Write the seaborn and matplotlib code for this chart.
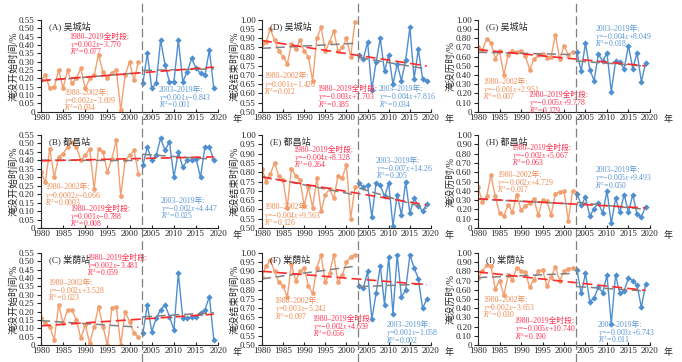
import numpy as np
import pandas as pd
import seaborn as sns
import matplotlib.pyplot as plt
import matplotlib.transforms as mtransforms
from matplotlib.ticker import FuncFormatter

# years of the two periods
years_early = list(range(1980, 2003))
years_late = list(range(2003, 2020))

# (A) start time, Wucheng
A_early = [0.19, 0.22, 0.14, 0.15, 0.25, 0.14, 0.25, 0.17, 0.20, 0.26, 0.14, 0.20,
           0.22, 0.34, 0.24, 0.20, 0.23, 0.25, 0.01, 0.22, 0.30, 0.19, 0.30]
A_late = [0.17, 0.35, 0.14, 0.17, 0.43, 0.28, 0.18, 0.18, 0.43, 0.18, 0.24, 0.32,
          0.26, 0.23, 0.22, 0.37, 0.14]
# (B) start time, Duchang
B_early = [0.33, 0.27, 0.47, 0.30, 0.42, 0.44, 0.48, 0.51, 0.48, 0.40, 0.43, 0.47,
           0.23, 0.47, 0.45, 0.33, 0.41, 0.52, 0.19, 0.40, 0.43, 0.46, 0.32]
B_late = [0.37, 0.48, 0.40, 0.43, 0.53, 0.46, 0.51, 0.30, 0.45, 0.36, 0.40, 0.40,
          0.41, 0.30, 0.48, 0.48, 0.40]
# (C) start time, Tangyin
C_early = [0.16, 0.13, 0.11, 0.03, 0.24, 0.13, 0.21, 0.21, 0.15, 0.04, 0.12, 0.01,
           0.11, 0.23, 0.11, 0.00, 0.22, 0.23, 0.00, 0.20, 0.14, 0.07, 0.05]
C_late = [0.07, 0.24, 0.08, 0.16, 0.21, 0.24, 0.17, 0.09, 0.43, 0.16, 0.16, 0.17,
          0.17, 0.19, 0.21, 0.29, 0.03]
# (D) end time, Wucheng
D_early = [0.87, 0.88, 0.95, 0.89, 0.83, 0.80, 0.76, 0.87, 0.84, 0.89, 0.83, 0.80,
           0.67, 0.90, 0.96, 0.83, 0.88, 0.94, 0.83, 0.85, 0.90, 0.80, 0.99]
D_late = [0.81, 0.79, 0.88, 0.62, 0.77, 0.90, 0.72, 0.81, 0.65, 0.76, 0.67, 0.78,
          0.96, 0.68, 0.84, 0.68, 0.67]
# (E) end time, Duchang
E_early = [0.82, 0.75, 0.79, 0.85, 0.78, 0.76, 0.61, 0.82, 0.78, 0.76, 0.62, 0.72,
           0.61, 0.77, 0.59, 0.68, 0.71, 0.66, 0.78, 0.77, 0.84, 0.55, 0.72]
E_late = [0.74, 0.72, 0.73, 0.56, 0.74, 0.73, 0.67, 0.74, 0.51, 0.68, 0.57, 0.75,
          0.58, 0.66, 0.62, 0.59, 0.63]
# (F) end time, Tangyin
F_early = [0.87, 0.93, 0.96, 0.90, 0.84, 0.82, 0.76, 0.94, 0.85, 0.90, 0.92, 0.82,
           0.78, 0.92, 0.99, 0.84, 0.89, 0.99, 0.84, 0.88, 0.95, 0.98, 0.99]
F_late = [0.82, 0.81, 0.90, 0.64, 0.78, 0.93, 0.72, 0.98, 0.67, 0.99, 0.76, 0.80,
          0.99, 0.92, 0.86, 0.70, 0.75]
# (G) duration, Wucheng
G_early = [0.70, 0.67, 0.79, 0.75, 0.58, 0.66, 0.40, 0.62, 0.66, 0.65, 0.66, 0.61,
           0.46, 0.57, 0.62, 0.63, 0.59, 0.60, 0.84, 0.57, 0.72, 0.62, 0.65]
G_late = [0.65, 0.44, 0.75, 0.46, 0.34, 0.63, 0.55, 0.64, 0.22, 0.55, 0.54, 0.47,
          0.72, 0.47, 0.64, 0.33, 0.53]
# (H) duration, Duchang
H_early = [0.44, 0.28, 0.34, 0.57, 0.34, 0.16, 0.13, 0.25, 0.17, 0.36, 0.19, 0.24,
           0.27, 0.31, 0.14, 0.30, 0.29, 0.14, 0.37, 0.39, 0.40, 0.08, 0.40]
H_late = [0.37, 0.25, 0.33, 0.13, 0.21, 0.27, 0.16, 0.40, 0.05, 0.32, 0.17, 0.36,
          0.17, 0.36, 0.15, 0.12, 0.23]
# (I) duration, Tangyin
I_early = [0.73, 0.80, 0.87, 0.86, 0.61, 0.70, 0.54, 0.76, 0.71, 0.84, 0.81, 0.79,
           0.63, 0.71, 0.80, 0.82, 0.64, 0.74, 0.85, 0.70, 0.80, 0.83, 0.84]
I_late = [0.82, 0.56, 0.78, 0.47, 0.51, 0.63, 0.57, 0.76, 0.23, 0.76, 0.56, 0.59,
          0.73, 0.70, 0.65, 0.41, 0.66]

panel_titles = ["(A) 吴城站", "(B) 都昌站", "(C) 棠荫站",
                "(D) 吴城站", "(E) 都昌站", "(F) 棠荫站",
                "(G) 吴城站", "(H) 都昌站", "(I) 棠荫站"]
col_ylabels = ["淹没开始时间/%", "淹没结束时间/%", "淹没历时/%"]

txt_early = [["1980–2002年:", "$y$=0.002$x$−3.609", "$R^2$=0.034"],
             ["1980–2002年:", "$y$=0.0002$x$−0.066", "$R^2$=0.0003"],
             ["1980–2002年:", "$y$=−0.002$x$+3.528", "$R^2$=0.023"],
             ["1980–2002年:", "$y$=0.001$x$−1.426", "$R^2$=0.012"],
             ["1980–2002年:", "$y$=−0.004$x$+9.563", "$R^2$=0.126"],
             ["1980–2002年:", "$y$=0.003$x$−5.242", "$R^2$=0.097"],
             ["1980–2002年:", "$y$=−0.001$x$+2.951", "$R^2$=0.007"],
             ["1980–2002年:", "$y$=−0.002$x$+4.729", "$R^2$=0.017"],
             ["1980–2002年:", "$y$=0.002$x$−3.653", "$R^2$=0.030"]]
txt_late = [["2003–2019年:", "$y$=0.001$x$−0.843", "$R^2$=0.001"],
            ["2003–2019年:", "$y$=−0.002$x$+4.447", "$R^2$=0.025"],
            ["2003–2019年:", "$y$=0.002$x$−2.905", "$R^2$=0.007"],
            ["2003–2019年:", "$y$=−0.004$x$+7.816", "$R^2$=0.034"],
            ["2003–2019年:", "$y$=−0.007$x$+14.26", "$R^2$=0.205"],
            ["2003–2019年:", "$y$=0.001$x$−1.058", "$R^2$=0.002"],
            ["2003–2019年:", "$y$=−0.004$x$+8.049", "$R^2$=0.018"],
            ["2003–2019年:", "$y$=−0.005$x$+9.493", "$R^2$=0.050"],
            ["2003–2019年:", "$y$=−0.003$x$+6.743", "$R^2$=0.011"]]
txt_full = [["1980–2019全时段:", "$y$=0.002$x$−3.770", "$R^2$=0.077"],
            ["1980–2019全时段:", "$y$=0.001$x$−0.788", "$R^2$=0.008"],
            ["1980–2019全时段:", "$y$=0.002$x$−3.481", "$R^2$=0.059"],
            ["1980–2019全时段:", "$y$=−0.003$x$+7.703", "$R^2$=0.185"],
            ["1980–2019全时段:", "$y$=−0.004$x$+8.328", "$R^2$=0.264"],
            ["1980–2019全时段:", "$y$=−0.002$x$+4.659", "$R^2$=0.056"],
            ["1980–2019全时段:", "$y$=−0.005$x$+9.778", "$R^2$=0.179"],
            ["1980–2019全时段:", "$y$=−0.002$x$+5.067", "$R^2$=0.063"],
            ["1980–2019全时段:", "$y$=−0.005$x$+10.740", "$R^2$=0.190"]]
# text anchors (left x, centre of first line) in data coords
pos_early = [(1985.2, 0.118), (1981, 0.245), (1981.7, 0.378), (1980.5, 0.697), (1980.5, 0.615),
             (1983, 0.742), (1981.2, 0.335), (1984.4, 0.584), (1981.2, 0.50)]
pos_late = [(2006.6, 0.138), (2007.1, 0.167), (2008, 0.56), (2007.6, 0.627), (2006.9, 0.865),
            (2009.4, 0.612), (2007.3, 0.91), (2007.3, 0.63), (2007.9, 0.226)]
pos_full = [(1986.5, 0.455), (1986.6, 0.118), (1990.5, 0.525), (1993.2, 0.627), (1987.5, 0.924),
            (1992, 0.645), (1991.8, 0.19), (1987.8, 0.868), (1988.5, 0.267)]

data_early = [A_early, B_early, C_early, D_early, E_early, F_early, G_early, H_early, I_early]
data_late = [A_late, B_late, C_late, D_late, E_late, F_late, G_late, H_late, I_late]

orange = "#f3a070"
blue = "#4f8fd0"
red = "#ff2a2a"
gray = "#808080"
c_txt_orange = "#f08a50"
c_txt_red = "#ff3050"
c_txt_blue = "#5a96d2"

sns.set_style("ticks")
plt.rcParams['font.family'] = ['Liberation Serif', 'Noto Sans CJK SC']
plt.rcParams['mathtext.fontset'] = 'stix'
plt.rcParams['axes.linewidth'] = 0.8

fig = plt.figure(figsize=(6.82, 3.62), dpi=100)
col_left = [0.060, 0.384, 0.701]
col_w = [0.260, 0.248, 0.252]
row_bottom = [0.691, 0.370, 0.047]
row_h = [0.254, 0.257, 0.254]


def fmt(v, pos):
    return "0" if abs(v) < 1e-9 else f"{v:.2f}"


def put_block(ax, xy, lines, color):
    # three stacked lines, fixed baseline step
    for i, line in enumerate(lines):
        ax.annotate(line, xy=xy, xycoords="data", xytext=(0, -2.0 - i * 5.9),
                    textcoords="offset points", ha="left", va="baseline",
                    color=color, fontsize=5.6)


for k in range(9):
    col = k // 3
    row = k % 3
    ax = fig.add_axes([col_left[col], row_bottom[row], col_w[col], row_h[row]])
    df_e = pd.DataFrame({"year": years_early, "val": data_early[k]})
    df_l = pd.DataFrame({"year": years_late, "val": data_late[k]})
    df_all = pd.concat([df_e, df_l], ignore_index=True)

    sns.lineplot(data=df_e, x="year", y="val", ax=ax, color=orange, lw=1.0,
                 marker="o", markersize=3.4, markeredgewidth=0)
    sns.lineplot(data=df_l, x="year", y="val", ax=ax, color=blue, lw=1.0,
                 marker="D", markersize=3.2, markeredgewidth=0)
    sns.regplot(data=df_e, x="year", y="val", ax=ax, scatter=False, ci=None,
                line_kws=dict(color=gray, ls=(0, (6, 3)), lw=1.1))
    sns.regplot(data=df_l, x="year", y="val", ax=ax, scatter=False, ci=None,
                line_kws=dict(color=gray, ls=(0, (6, 3)), lw=1.1))
    sns.regplot(data=df_all, x="year", y="val", ax=ax, scatter=False, ci=None,
                line_kws=dict(color=red, ls=(0, (6, 3)), lw=1.2))

    ax.set_xlim(1980, 2020)
    ax.set_xticks(range(1980, 2021, 5))
    if col == 0:
        ax.set_ylim(0, 0.55)
        ax.set_yticks(np.arange(0, 0.551, 0.05))
    elif col == 1:
        ax.set_ylim(0.5, 1.0)
        ax.set_yticks(np.arange(0.5, 1.001, 0.05))
    else:
        ax.set_ylim(0, 1.0)
        ax.set_yticks(np.arange(0, 1.001, 0.1))
    ax.yaxis.set_major_formatter(FuncFormatter(fmt))
    ax.set_xlabel("")
    ax.set_ylabel(col_ylabels[col], fontsize=7.0, labelpad=0.5)
    ax.tick_params(axis="both", labelsize=6.5, width=0.8, pad=1.5)
    ax.tick_params(axis="y", length=3, direction="out")
    ax.tick_params(axis="x", length=2, direction="in")
    sns.despine(ax=ax)

    ax.annotate("年", xy=(1, 0), xycoords="axes fraction", xytext=(10, -2.5),
                textcoords="offset points", ha="left", va="top", fontsize=6.5)
    ax.text(0.047, 0.99, panel_titles[k], transform=ax.transAxes, ha="left",
            va="top", fontsize=6.5)

    put_block(ax, pos_early[k], txt_early[k], c_txt_orange)
    put_block(ax, pos_late[k], txt_late[k], c_txt_blue)
    put_block(ax, pos_full[k], txt_full[k], c_txt_red)

    if row == 0:
        trans = mtransforms.blended_transform_factory(ax.transData, fig.transFigure)
        fig.add_artist(plt.Line2D([2002.7, 2002.7], [0.0, 1.0], transform=trans,
                                  color=gray, ls=(0, (7, 3)), lw=0.9))

fig.savefig("out.png", dpi=100)
